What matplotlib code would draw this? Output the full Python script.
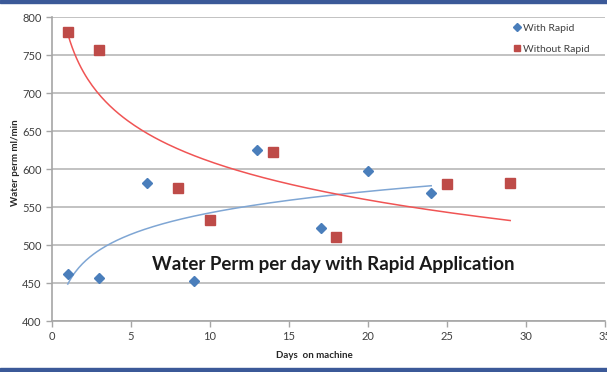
import numpy as np
import matplotlib.pyplot as plt
from matplotlib.patches import Rectangle

plt.rcParams['font.family'] = ['Lato', 'DejaVu Sans']

# days on machine / water permeability (ml/min)
days_with = [1, 3, 6, 9, 13, 17, 20, 24]
perm_with = [462, 457, 581, 452, 625, 523, 598, 569]
days_without = [1, 3, 8, 10, 14, 18, 25, 29]
perm_without = [780, 757, 575, 533, 623, 510, 580, 581]

fig = plt.figure(figsize=(6.07, 3.72), dpi=100)
ax = fig.add_axes([52/607, 1 - 321/372, 553/607, 304/372])

# log trend lines like excel
def log_trend(x, y):
    b, a = np.polyfit(np.log(x), y, 1)
    xs = np.linspace(min(x), max(x), 200)
    return xs, a + b * np.log(xs)

xs, ys = log_trend(days_with, perm_with)
ax.plot(xs, ys, color='#7fa6d4', lw=1.1, zorder=2)
xs, ys = log_trend(days_without, perm_without)
ax.plot(xs, ys, color='#f05454', lw=1.1, zorder=2)

ax.plot(days_with, perm_with, 'D', color='#4a7ebb', ms=5.5, label='With Rapid', zorder=3)
ax.plot(days_without, perm_without, 's', color='#be4b48', ms=6.5, label='Without Rapid', zorder=3)

ax.set_xlim(0, 35)
ax.set_ylim(400, 800)
ax.set_xticks(range(0, 36, 5))
ax.set_yticks(range(400, 801, 50))
ax.grid(axis='y', color='#bdbdbd', lw=1.3)
ax.set_axisbelow(True)
for s in ['top', 'right']:
    ax.spines[s].set_visible(False)
for s in ['left', 'bottom']:
    ax.spines[s].set_color('#a6a6a6')
    ax.spines[s].set_linewidth(1.2)
ax.tick_params(colors='#a6a6a6', labelcolor='#404040', labelsize=8, length=4, width=1)

ax.set_xlabel('Days  on machine', fontsize=7, fontweight='bold', color='#262626')
ax.xaxis.set_label_coords(0.475, -0.1)
ax.set_ylabel('Water perm ml/min', fontsize=7, fontweight='bold', color='#262626')
ax.yaxis.set_label_coords(-0.057, 0.52)

ax.text(0.508, 0.185, 'Water Perm per day with Rapid Application', transform=ax.transAxes,
        ha='center', va='center', fontsize=13.5, fontweight='bold', color='#1a1a1a')

ax.legend(loc='upper right', bbox_to_anchor=(0.99, 1.01), frameon=False, fontsize=7.5,
          handletextpad=0.2, handlelength=0.8, labelspacing=1.15, markerscale=0.7,
          labelcolor='#404040')

# blue frame bands
fig.patches.append(Rectangle((0, 1 - 3/372), 1, 3/372, transform=fig.transFigure, color='#3b5998'))
fig.patches.append(Rectangle((0, 0), 1, 4/372, transform=fig.transFigure, color='#3b5998'))

fig.savefig('out.png', dpi=100)
